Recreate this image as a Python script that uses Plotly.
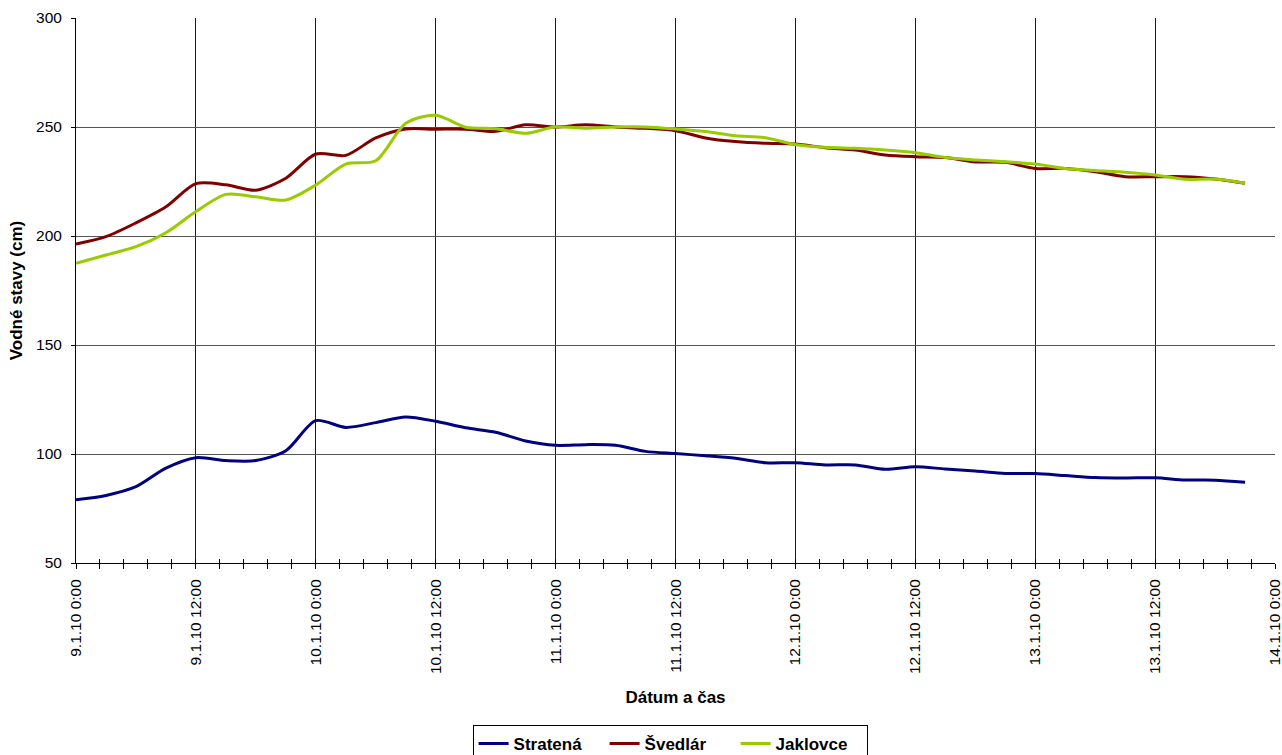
import pandas as pd
import plotly.graph_objects as go

# Measurement times: every 3 hours from 9.1.2010 0:00 to 13.1.2010 21:00
times = pd.date_range("2010-01-09 00:00", periods=40, freq="3h")

stratena = [79, 81, 85, 93.5, 98.3, 97, 97, 101.5, 115.3, 112.2,
            114.4, 117, 115, 112, 110, 106, 104, 104.3, 104, 101.2,
            100.2, 99.2, 98, 96, 96, 95, 95, 93, 94.2, 93.1,
            92.2, 91.1, 91, 90.1, 89.2, 89, 89.1, 88.1, 88, 87]
svedlar = [196.3, 199.7, 206, 213.4, 224, 223.5, 221, 226.5, 237.6, 237,
           245, 249.1, 249, 249, 248, 251, 250, 251, 250, 249.4,
           248.3, 245, 243.3, 242.5, 242.2, 240.5, 239.4, 237.2, 236.4, 236,
           234, 233.8, 231, 231, 229.5, 227.2, 227.2, 227.2, 226.1, 224.2]
jaklovce = [187.5, 191.3, 195.1, 201.5, 211.2, 219.1, 218, 216.5, 223.4, 233,
            234.5, 251.7, 255.4, 249.9, 249.2, 247.1, 250.1, 249.4, 250, 250,
            249.1, 247.9, 246, 245.1, 242, 240.7, 240.2, 239.4, 238.2, 236,
            234.9, 234.1, 233, 231, 230, 229.2, 228, 226, 226.1, 224.2]

series = [("Stratená", stratena, "#000080"),
          ("Švedlár", svedlar, "#800000"),
          ("Jaklovce", jaklovce, "#99CC00")]

tick_times = pd.date_range("2010-01-09 00:00", "2010-01-14 00:00", freq="12h")
tick_text = [f"{t.day}.{t.month}.{t.strftime('%y')} {t.hour}:{t.strftime('%M')}"
             for t in tick_times]
y_ticks = [50, 100, 150, 200, 250, 300]
minor_step_ms = 2.4 * 3600 * 1000

fig = go.Figure()
for name, values, color in series:
    fig.add_trace(go.Scatter(
        x=times, y=values, name=name, mode="lines",
        line=dict(color=color, width=3, shape="spline", smoothing=0.8),
    ))

# Empty trace that anchors the overlay axis carrying the inner tick marks
fig.add_trace(go.Scatter(x=times[:1], y=[stratena[0]], mode="none",
                         xaxis="x2", showlegend=False, hoverinfo="skip"))

font_family = "Liberation Sans, Arial, sans-serif"
fig.update_layout(
    width=1282, height=755,
    margin=dict(l=76, r=7, t=18, b=192, autoexpand=False),
    paper_bgcolor="white", plot_bgcolor="white",
    font=dict(family=font_family, size=16, color="black"),
    showlegend=True,
    legend=dict(
        orientation="h", x=0.4955, xanchor="center", y=-0.297, yanchor="top",
        bordercolor="black", borderwidth=1,
        font=dict(size=17, family=font_family, weight="bold", color="black"),
        itemwidth=30, tracegroupgap=0, entrywidth=86,
    ),
    xaxis2=dict(
        type="date", overlaying="x", matches="x", side="bottom",
        anchor="y", showgrid=False, showticklabels=False, showline=False,
        tickvals=tick_times, ticks="inside", ticklen=4, tickcolor="black",
        minor=dict(dtick=minor_step_ms, ticks="inside", ticklen=4,
                   tickcolor="black", showgrid=False),
        zeroline=False, automargin=False,
    ),
)
fig.layout.xaxis.update(
    type="date",
    range=[tick_times[0], tick_times[-1]],
    automargin=False,
    tickvals=tick_times, ticktext=tick_text, tickangle=-90,
    tickfont=dict(size=15.5, color="black"),
    ticklabeloverflow="allow", ticklabelstandoff=4,
    showgrid=True, gridcolor="#1a1a1a", gridwidth=1,
    showline=True, linecolor="black", linewidth=1,
    ticks="outside", ticklen=5, tickcolor="black",
    minor=dict(dtick=minor_step_ms, ticks="outside", ticklen=5,
               tickcolor="black", showgrid=False),
    zeroline=False,
    title=dict(text="Dátum a čas",
               font=dict(size=17, weight="bold", color="black"),
               standoff=18),
)
fig.layout.yaxis.update(
    range=[50, 300], tickvals=y_ticks,
    automargin=False,
    tickfont=dict(size=15.5, color="black"),
    showgrid=True, gridcolor="#555555", gridwidth=1,
    showline=True, linecolor="black", linewidth=1,
    ticks="outside", ticklen=4, tickcolor="black",
    ticklabelstandoff=6,
    zeroline=False,
    title=dict(text="Vodné stavy (cm)",
               font=dict(size=17, weight="bold", color="black"),
               standoff=9),
)

fig.write_html("out.html")
